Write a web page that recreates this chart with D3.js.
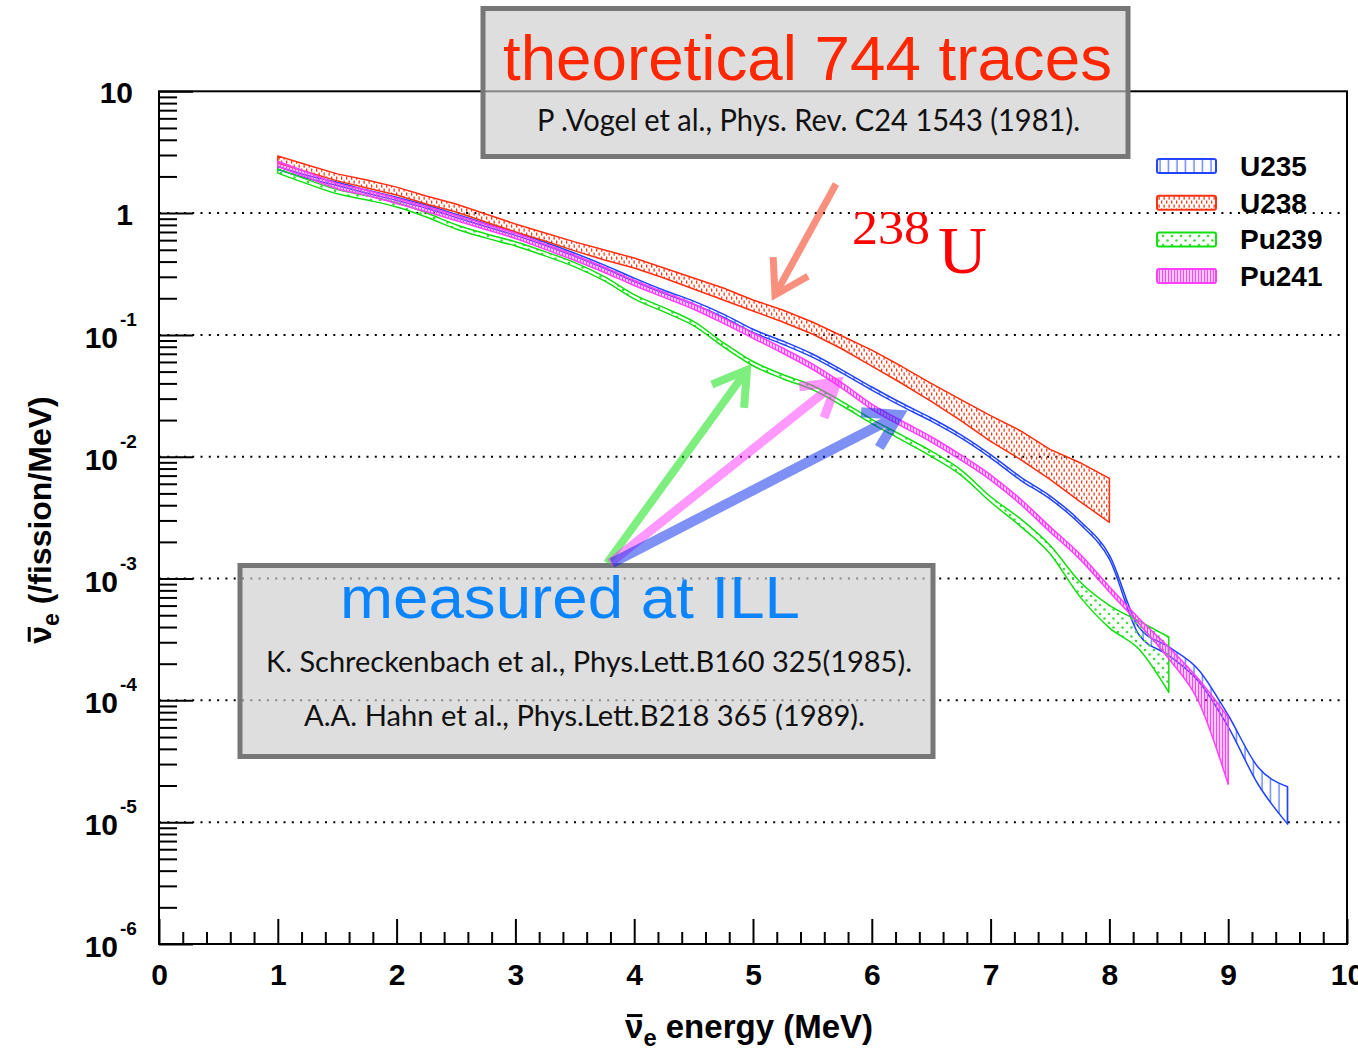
<!DOCTYPE html>
<html>
<head>
<meta charset="utf-8">
<script src="https://cdn.jsdelivr.net/npm/d3@7"></script>
<style>
  body { margin: 0; background: #fff; }
  svg { display: block; }
</style>
</head>
<body>
<div id="chart"></div>
<script>
// antineutrino spectra per fission (value, relative band half-width)
var energyU235 = [1.0, 1.25, 1.5, 1.75, 2.0, 2.25, 2.5, 2.75, 3.0, 3.25, 3.5, 3.75, 4.0, 4.25, 4.5, 4.75, 5.0, 5.25, 5.5, 5.75, 6.0, 6.25, 6.5, 6.75, 7.0, 7.25, 7.5, 7.75, 8.0, 8.25, 8.5, 8.75, 9.0, 9.25, 9.5];
var fluxU235 = [2.35, 1.98, 1.74, 1.50, 1.31, 1.13, 0.95, 0.80, 0.677, 0.560, 0.455, 0.363, 0.284, 0.226, 0.184, 0.144, 0.108, 0.0865, 0.0677, 0.0500, 0.0363, 0.0268, 0.0202, 0.0147, 0.0101, 0.00664, 0.00464, 0.00290, 0.00150, 3.7e-4, 2.54e-4, 1.61e-4, 6.8e-5, 2.45e-5, 1.46e-5];
var errU235 = [0.03, 0.03, 0.03, 0.03, 0.03, 0.03, 0.03, 0.03, 0.03, 0.03, 0.03, 0.03, 0.03, 0.03, 0.03, 0.03, 0.03, 0.03, 0.03, 0.03, 0.03, 0.03, 0.03, 0.03, 0.03, 0.03, 0.03, 0.03, 0.04, 0.07, 0.08, 0.11, 0.11, 0.16, 0.34];

var energyU238 = [1.0, 1.25, 1.5, 1.75, 2.0, 2.25, 2.5, 2.75, 3.0, 3.25, 3.5, 3.75, 4.0, 4.25, 4.5, 4.75, 5.0, 5.25, 5.5, 5.75, 6.0, 6.25, 6.5, 6.75, 7.0, 7.25, 7.5, 7.75, 8.0];
var fluxU238 = [2.76, 2.33, 1.97, 1.74, 1.52, 1.285, 1.105, 0.915, 0.758, 0.639, 0.535, 0.455, 0.391, 0.324, 0.266, 0.218, 0.1755, 0.144, 0.1148, 0.0873, 0.0652, 0.0477, 0.0343, 0.0246, 0.01756, 0.01296, 0.0090, 0.00664, 0.00477];
var errU238 = [0.066, 0.066, 0.066, 0.075, 0.075, 0.075, 0.075, 0.075, 0.075, 0.075, 0.085, 0.094, 0.094, 0.094, 0.104, 0.113, 0.104, 0.113, 0.113, 0.122, 0.15, 0.159, 0.168, 0.195, 0.24, 0.266, 0.276, 0.352, 0.393];

var energyPu239 = [1.0, 1.25, 1.5, 1.75, 2.0, 2.25, 2.5, 2.75, 3.0, 3.25, 3.5, 3.75, 4.0, 4.25, 4.5, 4.75, 5.0, 5.25, 5.5, 5.75, 6.0, 6.25, 6.5, 6.75, 7.0, 7.25, 7.5, 7.75, 8.0, 8.25, 8.5];
var fluxPu239 = [2.22, 1.81, 1.50, 1.335, 1.17, 0.968, 0.772, 0.652, 0.560, 0.464, 0.377, 0.289, 0.206, 0.161, 0.124, 0.0833, 0.0582, 0.0455, 0.0370, 0.0273, 0.0195, 0.0144, 0.0106, 0.00743, 0.00447, 0.00290, 0.00174, 8.3e-4, 4.98e-4, 3.55e-4, 2.24e-4];
var errPu239 = [0.04, 0.04, 0.04, 0.04, 0.04, 0.04, 0.04, 0.04, 0.04, 0.04, 0.04, 0.04, 0.04, 0.04, 0.04, 0.04, 0.04, 0.04, 0.04, 0.04, 0.04, 0.045, 0.05, 0.05, 0.05, 0.07, 0.08, 0.14, 0.21, 0.26, 0.48];

var energyPu241 = [1.0, 1.25, 1.5, 1.75, 2.0, 2.25, 2.5, 2.75, 3.0, 3.25, 3.5, 3.75, 4.0, 4.25, 4.5, 4.75, 5.0, 5.25, 5.5, 5.75, 6.0, 6.25, 6.5, 6.75, 7.0, 7.25, 7.5, 7.75, 8.0, 8.25, 8.5, 8.75, 9.0];
var fluxPu241 = [2.54, 2.06, 1.67, 1.47, 1.26, 1.08, 0.915, 0.772, 0.652, 0.530, 0.430, 0.343, 0.268, 0.214, 0.171, 0.131, 0.0987, 0.0744, 0.0550, 0.0384, 0.0258, 0.0188, 0.0139, 0.00986, 0.00677, 0.00430, 0.00254, 0.00152, 8.17e-4, 4.47e-4, 2.46e-4, 1.24e-4, 4.66e-5];
var errPu241 = [0.05, 0.05, 0.05, 0.05, 0.05, 0.05, 0.05, 0.05, 0.05, 0.05, 0.05, 0.05, 0.05, 0.05, 0.05, 0.05, 0.05, 0.05, 0.05, 0.05, 0.05, 0.05, 0.05, 0.05, 0.05, 0.05, 0.05, 0.05, 0.05, 0.05, 0.11, 0.21, 0.56];

var legendNames = ['U235', 'U238', 'Pu239', 'Pu241'];
var xTickValues = [0, 1, 2, 3, 4, 5, 6, 7, 8, 9, 10];
var yDecades = [1e-6, 1e-5, 1e-4, 1e-3, 1e-2, 1e-1, 1, 10];

var W = 1358, H = 1048;
var svg = d3.select('#chart').append('svg').attr('width', W).attr('height', H);

var x = d3.scaleLinear().domain([0, 10]).range([159, 1347]);
var y = d3.scaleLog().domain([1e-6, 10]).range([944, 91.3]);

var SANS = '"Liberation Sans", Arial, Helvetica, sans-serif';
var GILL = 'Lato, "Open Sans", sans-serif';

//fill patterns, ROOT style
var defs = svg.append('defs');
function pattern(id, w, h) {
    return defs.append('pattern').attr('id', id).attr('patternUnits', 'userSpaceOnUse')
        .attr('width', w).attr('height', h);
}
var p1 = pattern('pat-u235', 8.5, 10);
p1.append('line').attr('x1', 4).attr('x2', 4).attr('y1', 0).attr('y2', 10)
    .attr('stroke', '#5a78ff').attr('stroke-width', 1.3);
var p2 = pattern('pat-u238', 5, 8);
p2.append('rect').attr('x', 1).attr('y', 0.5).attr('width', 1.3).attr('height', 3.2).attr('fill', '#ff3a1a');
p2.append('rect').attr('x', 3.5).attr('y', 4.5).attr('width', 1.3).attr('height', 3.2).attr('fill', '#ff3a1a');
var p3 = pattern('pat-pu239', 9, 9);
p3.append('circle').attr('cx', 2).attr('cy', 2).attr('r', 1.3).attr('fill', '#3ddd3d');
p3.append('circle').attr('cx', 6.5).attr('cy', 6.5).attr('r', 1.3).attr('fill', '#3ddd3d');
var p4 = pattern('pat-pu241', 3, 6);
p4.append('line').attr('x1', 1.5).attr('x2', 1.5).attr('y1', 0).attr('y2', 6)
    .attr('stroke', '#ff44ff').attr('stroke-width', 1.6);

var colors = ['#2244ff', '#ff3010', '#10e010', '#ff40ff'];
var pats = ['pat-u235', 'pat-u238', 'pat-pu239', 'pat-pu241'];

//dotted grid
var grid = svg.append('g');
grid.selectAll('line')
    .data([1e-5, 1e-4, 1e-3, 1e-2, 1e-1, 1])
    .enter()
    .append('line')
    .attr('x1', x(0)).attr('x2', x(10))
    .attr('y1', d => y(d)).attr('y2', d => y(d))
    .attr('stroke', '#000').attr('stroke-width', 2)
    .attr('stroke-dasharray', '2,6.3');

//bands
var bands = svg.append('g');
function drawBand(energy, flux, err, i, curve) {
    var pts = energy.map(function(e, k) {
        return { e: e, hi: flux[k] * (1 + err[k]), lo: flux[k] * (1 - err[k]) };
    });
    var area = d3.area()
        .x(d => x(d.e))
        .y0(d => y(d.lo))
        .y1(d => y(d.hi))
        .curve(curve);
    bands.append('path')
        .attr('d', area(pts))
        .attr('fill', 'url(#' + pats[i] + ')')
        .attr('stroke', colors[i])
        .attr('stroke-width', 1.5)
        .attr('stroke-linejoin', 'round');
}
drawBand(energyU235, fluxU235, errU235, 0, d3.curveMonotoneX);
drawBand(energyU238, fluxU238, errU238, 1, d3.curveLinear);
drawBand(energyPu239, fluxPu239, errPu239, 2, d3.curveMonotoneX);
drawBand(energyPu241, fluxPu241, errPu241, 3, d3.curveMonotoneX);

//axes: ticks inside the frame
function styleAxis(g) {
    g.select('.domain').remove();
    g.selectAll('line').attr('stroke', '#000').attr('stroke-width', 2);
}
var xMinor = [];
xTickValues.slice(0, -1).forEach(function(v) {
    [0.2, 0.4, 0.6, 0.8].forEach(function(f) { xMinor.push(v + f); });
});
svg.append('g').attr('transform', 'translate(0,944)')
    .call(d3.axisBottom(x).tickValues(xMinor).tickSize(-12).tickSizeOuter(0).tickFormat(''))
    .call(styleAxis);
svg.append('g').attr('transform', 'translate(0,944)')
    .call(d3.axisBottom(x).tickValues(xTickValues).tickSize(-25).tickSizeOuter(0).tickPadding(20).tickFormat(d3.format('d')))
    .call(styleAxis)
    .call(g => g.selectAll('text').attr('font-family', SANS).attr('font-weight', 'bold')
        .attr('font-size', 30).attr('fill', '#000'));

var yMinor = [];
yDecades.slice(0, -1).forEach(function(d) {
    [2, 3, 4, 5, 6, 7, 8, 9].forEach(function(k) { yMinor.push(d * k); });
});
svg.append('g').attr('transform', 'translate(159,0)')
    .call(d3.axisLeft(y).tickValues(yMinor).tickSize(-18).tickSizeOuter(0).tickFormat(''))
    .call(styleAxis);
svg.append('g').attr('transform', 'translate(159,0)')
    .call(d3.axisLeft(y).tickValues(yDecades).tickSize(-34).tickSizeOuter(0).tickFormat(''))
    .call(styleAxis);

//y tick labels with exponents
var ylab = svg.append('g').attr('font-family', SANS).attr('font-weight', 'bold').attr('fill', '#000');
yDecades.forEach(function(v) {
    var p = Math.round(Math.log10(v));
    if (p >= 0) {
        ylab.append('text').attr('x', 133).attr('y', y(v) + 12).attr('text-anchor', 'end')
            .attr('font-size', 30).text(p === 1 ? '10' : '1');
    } else {
        ylab.append('text').attr('x', 118).attr('y', y(v) + 13).attr('text-anchor', 'end')
            .attr('font-size', 30).text('10');
        ylab.append('text').attr('x', 120).attr('y', y(v) - 9)
            .attr('font-size', 19).text('-' + (-p));
    }
});

//frame
svg.append('rect')
    .attr('x', x(0)).attr('y', y(10))
    .attr('width', x(10) - x(0)).attr('height', y(1e-6) - y(10))
    .attr('fill', 'none').attr('stroke', '#000').attr('stroke-width', 2);

//axis titles, nu-bar drawn as a bar over the first glyph
function nuTitle(g, size, rest) {
    var t = g.append('text').attr('x', 0).attr('y', 0).attr('text-anchor', 'middle')
        .attr('font-family', SANS).attr('font-weight', 'bold').attr('font-size', size);
    t.append('tspan').text('\u03BD');
    t.append('tspan').attr('dy', 8).attr('font-size', size * 0.72).text('e');
    t.append('tspan').attr('dy', -8).text(rest);
    var ext = t.node().getExtentOfChar(0);
    g.append('line')
        .attr('x1', ext.x + 2).attr('x2', ext.x + ext.width - 1)
        .attr('y1', -0.68 * size).attr('y2', -0.68 * size)
        .attr('stroke', '#000').attr('stroke-width', 3);
}
nuTitle(svg.append('g').attr('transform', 'translate(749,1038)'), 33, ' energy (MeV)');
nuTitle(svg.append('g').attr('transform', 'translate(51,520) rotate(-90)'), 32, ' (/fission/MeV)');

//legend
var leg = svg.append('g');
legendNames.forEach(function(name, i) {
    var cy = 166 + i * 36.7;
    leg.append('rect').attr('x', 1157).attr('y', cy - 7).attr('width', 59).attr('height', 14)
        .attr('rx', 2).attr('fill', 'url(#' + pats[i] + ')').attr('stroke', colors[i]).attr('stroke-width', 2);
    leg.append('text').attr('x', 1240).attr('y', cy + 10)
        .attr('font-family', SANS).attr('font-weight', 'bold').attr('font-size', 28).text(name);
});

//annotation boxes
function box(x0, y0, w, h) {
    svg.append('rect').attr('x', x0).attr('y', y0).attr('width', w).attr('height', h)
        .attr('fill', 'rgb(205,205,205)').attr('fill-opacity', 0.66)
        .attr('stroke', '#777').attr('stroke-width', 5);
}
box(483, 8.5, 645, 148);
box(240, 565.5, 693, 191);

svg.append('text').attr('x', 807.5).attr('y', 80).attr('text-anchor', 'middle')
    .attr('font-family', SANS).attr('font-size', 63).attr('fill', '#ff2600')
    .attr('textLength', 609).attr('lengthAdjust', 'spacingAndGlyphs')
    .text('theoretical 744 traces');
svg.append('text').attr('x', 808.5).attr('y', 131).attr('text-anchor', 'middle')
    .attr('font-family', GILL).attr('font-size', 30).attr('fill', '#111')
    .attr('textLength', 543).attr('lengthAdjust', 'spacingAndGlyphs')
    .text('P .Vogel et al., Phys. Rev. C24 1543 (1981).');

svg.append('text').attr('x', 570).attr('y', 618).attr('text-anchor', 'middle')
    .attr('font-family', SANS).attr('font-size', 60).attr('fill', '#0a84ff')
    .attr('textLength', 460).attr('lengthAdjust', 'spacingAndGlyphs')
    .text('measured at ILL');
svg.append('text').attr('x', 589).attr('y', 672).attr('text-anchor', 'middle')
    .attr('font-family', GILL).attr('font-size', 29).attr('fill', '#111')
    .attr('textLength', 646).attr('lengthAdjust', 'spacingAndGlyphs')
    .text('K. Schreckenbach et al., Phys.Lett.B160 325(1985).');
svg.append('text').attr('x', 584.5).attr('y', 726).attr('text-anchor', 'middle')
    .attr('font-family', GILL).attr('font-size', 29).attr('fill', '#111')
    .attr('textLength', 561).attr('lengthAdjust', 'spacingAndGlyphs')
    .text('A.A. Hahn et al., Phys.Lett.B218 365 (1989).');

//238U label
svg.append('text').attr('x', 852).attr('y', 244)
    .attr('font-family', '"Liberation Serif", "DejaVu Serif", serif').attr('font-size', 48).attr('fill', '#ff0000')
    .attr('textLength', 78).attr('lengthAdjust', 'spacingAndGlyphs').text('238');
svg.append('text').attr('x', 938).attr('y', 273)
    .attr('font-family', '"Liberation Serif", "DejaVu Serif", serif').attr('font-size', 68).attr('fill', '#ff0000')
    .attr('textLength', 49).attr('lengthAdjust', 'spacingAndGlyphs').text('U');

//arrows
function arrow(x1, y1, x2, y2, color, width) {
    var g = svg.append('g').attr('opacity', 0.5).attr('stroke', color).attr('stroke-width', width)
        .attr('fill', 'none');
    g.append('line').attr('x1', x1).attr('y1', y1).attr('x2', x2).attr('y2', y2);
    var a = Math.atan2(y1 - y2, x1 - x2), L = 38, s = 0.55;
    g.append('polyline').attr('stroke-linejoin', 'miter')
        .attr('points', [
            [x2 + L * Math.cos(a + s), y2 + L * Math.sin(a + s)],
            [x2, y2],
            [x2 + L * Math.cos(a - s), y2 + L * Math.sin(a - s)]
        ].map(p => p.join(',')).join(' '));
}
arrow(836, 184, 775, 295, '#f52300', 7);
arrow(607, 563, 747, 370, '#00e000', 8);
arrow(610, 563, 837, 382, '#ff33ff', 9);
arrow(612, 563, 899, 415, '#0023eb', 10);
</script>
</body>
</html>
